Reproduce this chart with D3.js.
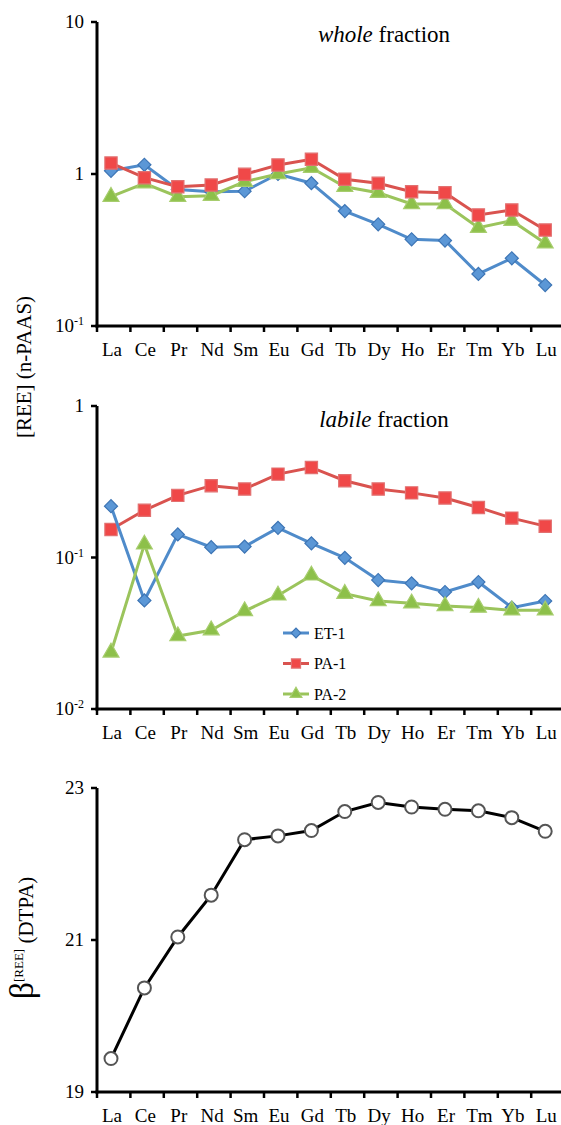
<!DOCTYPE html>
<html>
<head>
<meta charset="utf-8">
<script src="https://cdn.jsdelivr.net/npm/d3@7"></script>
<style>
    body { margin: 0; background: #fff; }
</style>
</head>
<body>
<div id="chart"></div>
<script>
// rare earth elements on the x axis
const ree = ['La', 'Ce', 'Pr', 'Nd', 'Sm', 'Eu', 'Gd', 'Tb', 'Dy', 'Ho', 'Er', 'Tm', 'Yb', 'Lu'];

// whole fraction (n-PAAS)
const wholeET1 = [1.05, 1.15, 0.79, 0.765, 0.77, 1.0, 0.87, 0.57, 0.467, 0.372, 0.365, 0.22, 0.279, 0.186];
const wholePA1 = [1.18, 0.946, 0.825, 0.846, 0.995, 1.146, 1.25, 0.923, 0.868, 0.765, 0.753, 0.538, 0.58, 0.428];
const wholePA2 = [0.709, 0.868, 0.709, 0.72, 0.89, 1.0, 1.1, 0.825, 0.753, 0.635, 0.635, 0.443, 0.493, 0.35];

// labile fraction (n-PAAS)
const labileET1 = [0.218, 0.0521, 0.142, 0.117, 0.118, 0.157, 0.124, 0.0995, 0.071, 0.0675, 0.0592, 0.0689, 0.0467, 0.0516];
const labilePA1 = [0.153, 0.205, 0.257, 0.298, 0.283, 0.355, 0.393, 0.321, 0.283, 0.267, 0.247, 0.214, 0.182, 0.161];
const labilePA2 = [0.0236, 0.122, 0.0303, 0.0331, 0.0443, 0.0562, 0.0762, 0.0577, 0.0516, 0.0498, 0.0478, 0.0467, 0.0448, 0.0448];

// stability constants
const beta = [19.44, 20.37, 21.04, 21.59, 22.32, 22.37, 22.44, 22.69, 22.81, 22.75, 22.72, 22.70, 22.61, 22.43];

const seriesNames = ['ET-1', 'PA-1', 'PA-2'];

const width = 561;
const height = 1125;
const axisX = 97;
const step = 33.4;
const serif = '"Liberation Serif", "Times New Roman", Times, "DejaVu Serif", serif';

const svg = d3.select('#chart').append('svg')
    .attr('width', width)
    .attr('height', height)
    .attr('font-family', serif)
    .style('font-family', serif);

// band scale for ticks, points sit slightly left of band centre
const x = d3.scaleBand()
    .domain(ree)
    .range([axisX, axisX + step * ree.length])
    .paddingInner(0).paddingOuter(0);
const px = d => x(d) + 14;

// diamonds are just squares turned 45 degrees
const styles = {
    'ET-1': {color: '#4f8bca', fill: '#5b97d6', stroke: '#3d75b5', shape: d3.symbolSquare, size: 85, rot: 45},
    'PA-1': {color: '#d9534f', fill: '#f04848', stroke: '#e27070', shape: d3.symbolSquare, size: 150, rot: 0},
    'PA-2': {color: '#9bc45c', fill: '#8dc04a', stroke: '#a7cd6e', shape: d3.symbolTriangle, size: 110, rot: 0}
};

function xAxis(y0) {
    const g = svg.append('g')
        .attr('transform', `translate(0,${y0})`);
    g.append('line')
        .attr('x1', axisX - 1.5).attr('x2', x.range()[1])
        .attr('stroke', '#000').attr('stroke-width', 3);
    g.selectAll('.tk')
        .data(ree)
        .join('line')
            .attr('x1', d => x(d)).attr('x2', d => x(d))
            .attr('y1', 0).attr('y2', 6)
            .attr('stroke', '#000').attr('stroke-width', 2.5);
    g.selectAll('text')
        .data(ree)
        .join('text')
            .attr('x', d => x(d) + 15)
            .attr('y', 30)
            .attr('text-anchor', 'middle')
            .attr('font-size', '19px')
            .text(d => d);
}

function yAxis(y, ticks, fmt) {
    const g = svg.append('g');
    const r = y.range();
    g.append('line')
        .attr('x1', axisX).attr('x2', axisX)
        .attr('y1', r[0] + 1.5).attr('y2', r[1])
        .attr('stroke', '#000').attr('stroke-width', 3);
    g.selectAll('line.tk')
        .data(ticks)
        .join('line')
            .attr('class', 'tk')
            .attr('x1', axisX - 6).attr('x2', axisX)
            .attr('y1', d => y(d)).attr('y2', d => y(d))
            .attr('stroke', '#000').attr('stroke-width', 2.5);
    g.selectAll('text.tl')
        .data(ticks)
        .join('text')
            .attr('class', 'tl')
            .attr('x', axisX - 13)
            .attr('y', d => y(d) + 6)
            .attr('text-anchor', 'end')
            .attr('font-size', '19px')
            .each(function(d) {
                const t = d3.select(this);
                const lbl = fmt(d);
                t.append('tspan').text(lbl[0]);
                if (lbl[1]) {
                    t.append('tspan')
                        .attr('dy', -7)
                        .attr('font-size', '12px')
                        .text(lbl[1]);
                }
            });
}

function marker(sel, st, scale) {
    sel.append('path')
        .attr('d', d3.symbol().type(st.shape).size(st.size * scale))
        .attr('transform', `rotate(${st.rot})`)
        .attr('fill', st.fill)
        .attr('stroke', st.stroke)
        .attr('stroke-width', 1.2);
}

function drawSeries(y, data, name) {
    const st = styles[name];
    const line = d3.line()
        .x((d, i) => px(ree[i]))
        .y(d => y(d));
    svg.append('path')
        .datum(data)
        .attr('fill', 'none')
        .attr('stroke', st.color)
        .attr('stroke-width', 3)
        .attr('d', line);
    svg.append('g')
        .selectAll('g')
        .data(data)
        .join('g')
            .attr('transform', (d, i) => `translate(${px(ree[i])},${y(d)})`)
            .each(function() { marker(d3.select(this), st, 1); });
}

const logFmt = d => {
    if (d === 10) return ['10'];
    if (d === 1) return ['1'];
    return ['10', String(Math.round(Math.log10(d)))];
};

// PANEL 1 - whole fraction
const y1 = d3.scaleLog().domain([0.1, 10]).range([326, 22]);
yAxis(y1, [0.1, 1, 10], logFmt);
xAxis(326);
drawSeries(y1, wholeET1, 'ET-1');
drawSeries(y1, wholePA2, 'PA-2');
drawSeries(y1, wholePA1, 'PA-1');

svg.append('text')
    .attr('x', 384).attr('y', 42)
    .attr('text-anchor', 'middle')
    .attr('font-size', '23px')
    .call(t => t.append('tspan').attr('font-style', 'italic').text('whole'))
    .call(t => t.append('tspan').text(' fraction'));

// PANEL 2 - labile fraction
const y2 = d3.scaleLog().domain([0.01, 1]).range([709, 406]);
yAxis(y2, [0.01, 0.1, 1], logFmt);
xAxis(709);
drawSeries(y2, labilePA1, 'PA-1');
drawSeries(y2, labileET1, 'ET-1');
drawSeries(y2, labilePA2, 'PA-2');

svg.append('text')
    .attr('x', 384).attr('y', 427)
    .attr('text-anchor', 'middle')
    .attr('font-size', '23px')
    .call(t => t.append('tspan').attr('font-style', 'italic').text('labile'))
    .call(t => t.append('tspan').text(' fraction'));

// legend
const legend = svg.append('g')
    .attr('transform', 'translate(283,633)');
seriesNames.forEach((name, i) => {
    const st = styles[name];
    const row = legend.append('g')
        .attr('transform', `translate(0,${i * 30.5})`);
    row.append('line')
        .attr('x1', 0).attr('x2', 26)
        .attr('stroke', st.color).attr('stroke-width', 3);
    marker(row.append('g').attr('transform', 'translate(13,0)'), st, 0.55);
    row.append('text')
        .attr('x', 31).attr('y', 5.5)
        .attr('font-size', '16px')
        .text(name);
});

// y title shared by the two upper panels
svg.append('text')
    .attr('transform', 'translate(31,367) rotate(-90)')
    .attr('text-anchor', 'middle')
    .attr('font-size', '21px')
    .text('[REE] (n-PAAS)');

// PANEL 3 - beta
const y3 = d3.scaleLinear().domain([19, 23]).range([1092, 788]);
yAxis(y3, [19, 21, 23], d => [String(d)]);
xAxis(1092);

svg.append('path')
    .datum(beta)
    .attr('fill', 'none')
    .attr('stroke', '#000')
    .attr('stroke-width', 3)
    .attr('d', d3.line().x((d, i) => px(ree[i])).y(d => y3(d)));
svg.append('g')
    .selectAll('circle')
    .data(beta)
    .join('circle')
        .attr('cx', (d, i) => px(ree[i]))
        .attr('cy', d => y3(d))
        .attr('r', 6.5)
        .attr('fill', '#fff')
        .attr('stroke', '#555')
        .attr('stroke-width', 2);

svg.append('text')
    .attr('transform', 'translate(33,938) rotate(-90)')
    .attr('text-anchor', 'middle')
    .attr('font-size', '21px')
    .call(t => t.append('tspan').attr('font-size', '34px').text('β'))
    .call(t => t.append('tspan').attr('font-size', '13px').attr('dy', -10).text('[REE]'))
    .call(t => t.append('tspan').attr('dy', 10).text(' (DTPA)'));
</script>
</body>
</html>
